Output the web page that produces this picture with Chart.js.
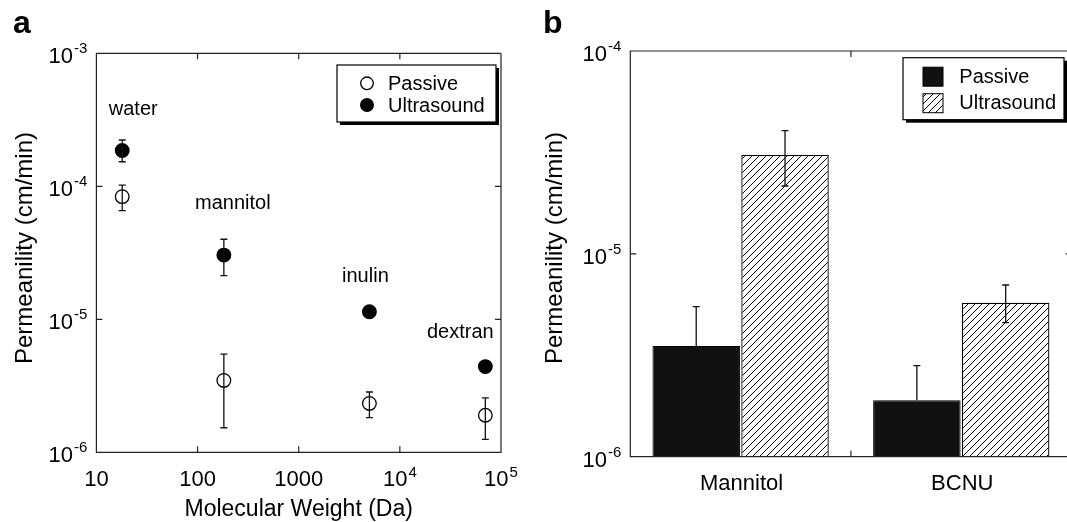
<!DOCTYPE html>
<html>
<head>
<meta charset="utf-8">
<script src="https://cdn.jsdelivr.net/npm/chart.js@4.4.1/dist/chart.umd.min.js"></script>
<style>
  html, body { margin: 0; padding: 0; background: #fff; width: 1067px; height: 522px; overflow: hidden; }
  #chartA { position: absolute; left: 0; top: 0; }
  #chartB { position: absolute; left: 530px; top: 0; }
</style>
</head>
<body>
<canvas id="chartA" width="530" height="522" style="width:530px;height:522px"></canvas>
<canvas id="chartB" width="560" height="522" style="width:560px;height:522px"></canvas>
<script>
// panel a: permeability vs molecular weight
const molecules = ["water", "mannitol", "inulin", "dextran"]
const molecularWeight = [18, 182, 5000, 70000]
const passivePerm = [8.36e-5, 3.47e-6, 2.33e-6, 1.90e-6]
const passiveHigh = [1.02e-4, 5.48e-6, 2.84e-6, 2.57e-6]
const passiveLow = [6.56e-5, 1.53e-6, 1.82e-6, 1.25e-6]
const ultrasoundPerm = [1.86e-4, 3.04e-5, 1.14e-5, 4.41e-6]
const ultrasoundHigh = [2.23e-4, 4.0e-5, null, null]
const ultrasoundLow = [1.53e-4, 2.13e-5, null, null]

const xTicksA = [10, 100, 1000, 1e4, 1e5]
const xTickLabelsA = [["10", ""], ["100", ""], ["1000", ""], ["10", "4"], ["10", "5"]]
const yTicksA = [1e-6, 1e-5, 1e-4, 1e-3]
const yTickLabelsA = [["10", "-6"], ["10", "-5"], ["10", "-4"], ["10", "-3"]]

// panel b: bars
const drugs = ["Mannitol", "BCNU"]
const barPassive = [3.51e-6, 1.90e-6]
const barPassiveHigh = [5.49e-6, 2.81e-6]
const barPassiveLow = [1.53e-6, null]
const barUltrasound = [3.07e-5, 5.74e-6]
const barUltrasoundHigh = [4.05e-5, 7.02e-6]
const barUltrasoundLow = [2.16e-5, 4.58e-6]

const yTicksB = [1e-6, 1e-5, 1e-4]
const yTickLabelsB = [["10", "-6"], ["10", "-5"], ["10", "-4"]]

const FONT = '"Liberation Sans", Arial, Helvetica, sans-serif'
const INK = "#111"

function powerLabel(ctx, base, exp, x, yMid, align, rise) {
  ctx.font = `22px ${FONT}`
  const wb = ctx.measureText(base).width
  ctx.font = `15px ${FONT}`
  const we = exp ? ctx.measureText(exp).width + 1 : 0
  const total = wb + we
  const left = align === "right" ? x - total : x - total / 2
  ctx.textAlign = "left"
  ctx.textBaseline = "alphabetic"
  ctx.font = `22px ${FONT}`
  ctx.fillText(base, left, yMid + 0.358 * 22)
  if (exp) {
    ctx.font = `15px ${FONT}`
    ctx.fillText(exp, left + wb + 1, yMid - rise + 0.358 * 15)
  }
}

function hatchPattern(ctx) {
  const tile = document.createElement("canvas")
  tile.width = 7
  tile.height = 7
  const t = tile.getContext("2d")
  t.fillStyle = "#fff"
  t.fillRect(0, 0, 7, 7)
  t.strokeStyle = "#000"
  t.lineWidth = 1
  t.beginPath()
  t.moveTo(0, 7); t.lineTo(7, 0)
  t.moveTo(-1, 1); t.lineTo(1, -1)
  t.moveTo(6, 8); t.lineTo(8, 6)
  t.stroke()
  return ctx.createPattern(tile, "repeat")
}

const errorBarPlugin = {
  id: "errorBars",
  afterDatasetsDraw(chart, args, opts) {
    const { ctx } = chart
    const yScale = chart.scales.y
    ctx.save()
    ctx.strokeStyle = INK
    ctx.lineWidth = 1.3
    opts.sets.forEach(set => {
      const meta = chart.getDatasetMeta(set.dataset)
      const raw = chart.data.datasets[set.dataset].data
      meta.data.forEach((el, i) => {
        const hi = set.high[i]
        const lo = set.low[i]
        if (hi == null && lo == null) return
        const v = typeof raw[i] === "object" ? raw[i].y : raw[i]
        const x = el.x
        const yHi = yScale.getPixelForValue(hi ?? v)
        const yLo = yScale.getPixelForValue(lo ?? v)
        ctx.beginPath()
        ctx.moveTo(x, yLo)
        ctx.lineTo(x, yHi)
        if (hi != null) { ctx.moveTo(x - 3.5, yHi); ctx.lineTo(x + 3.5, yHi) }
        if (lo != null) { ctx.moveTo(x - 3.5, yLo); ctx.lineTo(x + 3.5, yLo) }
        ctx.stroke()
      })
    })
    ctx.restore()
  }
}

function drawFrame(chart, xTickPixels, yTickPixels, frameRight) {
  const { ctx, chartArea: a } = chart
  ctx.save()
  ctx.strokeStyle = "#222"
  ctx.lineWidth = 1.2
  ctx.beginPath()
  ctx.moveTo(frameRight, a.top)
  ctx.lineTo(a.left, a.top)
  ctx.lineTo(a.left, a.bottom)
  ctx.lineTo(frameRight, a.bottom)
  ctx.lineTo(frameRight, a.top)
  xTickPixels.forEach(x => {
    ctx.moveTo(x, a.bottom); ctx.lineTo(x, a.bottom - 6)
    ctx.moveTo(x, a.top); ctx.lineTo(x, a.top + 6)
  })
  yTickPixels.forEach(y => {
    ctx.moveTo(a.left, y); ctx.lineTo(a.left + 6, y)
    ctx.moveTo(frameRight, y); ctx.lineTo(frameRight - 6, y)
  })
  ctx.stroke()
  ctx.restore()
}

function drawLegendBox(ctx, left, top, w, h) {
  ctx.fillStyle = "#000"
  ctx.fillRect(left + 3, top + 3, w, h)
  ctx.fillStyle = "#fff"
  ctx.fillRect(left, top, w, h)
  ctx.strokeStyle = "#000"
  ctx.lineWidth = 1.2
  ctx.strokeRect(left, top, w, h)
}

function drawYTitle(ctx, text, x, y) {
  ctx.save()
  ctx.translate(x, y)
  ctx.rotate(-Math.PI / 2)
  ctx.font = `24px ${FONT}`
  ctx.textAlign = "center"
  ctx.textBaseline = "middle"
  ctx.fillText(text, 0, 0)
  ctx.restore()
}

const decorA = {
  id: "decorA",
  afterDraw(chart) {
    const { ctx, chartArea: a, scales: { x, y } } = chart
    drawFrame(chart, xTicksA.map(v => x.getPixelForValue(v)), yTicksA.map(v => y.getPixelForValue(v)), a.right)

    ctx.save()
    ctx.fillStyle = "#000"
    xTicksA.forEach((v, i) => powerLabel(ctx, xTickLabelsA[i][0], xTickLabelsA[i][1], x.getPixelForValue(v), a.bottom + 25.5, "center", 6))
    yTicksA.forEach((v, i) => powerLabel(ctx, yTickLabelsA[i][0], yTickLabelsA[i][1], a.left - 9, y.getPixelForValue(v) + 1.5, "right", 7))

    ctx.font = `23px ${FONT}`
    ctx.textAlign = "center"
    ctx.textBaseline = "middle"
    ctx.fillText("Molecular Weight (Da)", (a.left + a.right) / 2, 510)
    drawYTitle(ctx, "Permeanility (cm/min)", 25, 248)

    // compound names above the ultrasound points
    const nameOffsets = [[11, -41], [9, -52], [-4, -35], [-25, -34]]
    const pts = chart.getDatasetMeta(1).data
    ctx.font = `20px ${FONT}`
    molecules.forEach((name, i) => {
      ctx.fillText(name, pts[i].x + nameOffsets[i][0], pts[i].y + nameOffsets[i][1])
    })

    // legend
    const w = 159, h = 57
    const left = a.right - 5 - w, top = a.top + 11.7
    drawLegendBox(ctx, left, top, w, h)
    const ds = chart.data.datasets
    const rows = [top + 18.3, top + 40]
    ds.forEach((d, i) => {
      ctx.beginPath()
      ctx.arc(left + 30, rows[i], 6.3, 0, Math.PI * 2)
      ctx.fillStyle = d.backgroundColor
      ctx.fill()
      ctx.lineWidth = 1.3
      ctx.strokeStyle = d.borderColor
      ctx.stroke()
      ctx.fillStyle = "#000"
      ctx.font = `20px ${FONT}`
      ctx.textAlign = "left"
      ctx.textBaseline = "middle"
      ctx.fillText(d.label, left + 51, rows[i] + 1)
    })

    ctx.font = `bold 32px ${FONT}`
    ctx.textAlign = "left"
    ctx.textBaseline = "alphabetic"
    ctx.fillText("a", 13, 33)
    ctx.restore()
  }
}

const decorB = {
  id: "decorB",
  afterDraw(chart) {
    const { ctx, chartArea: a, scales: { x, y } } = chart
    drawFrame(chart, [x.getPixelForValue(0.5)], yTicksB.map(v => y.getPixelForValue(v)), a.right)

    ctx.save()
    ctx.fillStyle = "#000"
    yTicksB.forEach((v, i) => powerLabel(ctx, yTickLabelsB[i][0], yTickLabelsB[i][1], a.left - 9, y.getPixelForValue(v) + 2, "right", 7))

    ctx.font = `22px ${FONT}`
    ctx.textAlign = "center"
    ctx.textBaseline = "alphabetic"
    drugs.forEach((name, i) => ctx.fillText(name, x.getPixelForValue(i) + 1, a.bottom + 25.3 + 0.358 * 22))
    drawYTitle(ctx, "Permeanility (cm/min)", 25.7, 248)

    // legend
    const w = 161, h = 62
    const left = a.right - 7.6 - w, top = a.top + 6.7
    drawLegendBox(ctx, left, top, w, h)
    const ds = chart.data.datasets
    const rows = [top + 9.5, top + 36]
    ds.forEach((d, i) => {
      ctx.fillStyle = d.backgroundColor
      ctx.fillRect(left + 20, rows[i], 20, 19)
      ctx.lineWidth = 1
      ctx.strokeStyle = "#000"
      ctx.strokeRect(left + 20, rows[i], 20, 19)
      ctx.fillStyle = "#000"
      ctx.font = `20px ${FONT}`
      ctx.textAlign = "left"
      ctx.textBaseline = "middle"
      ctx.fillText(d.label, left + 56.3, rows[i] + 10)
    })

    ctx.font = `bold 32px ${FONT}`
    ctx.textAlign = "left"
    ctx.textBaseline = "alphabetic"
    ctx.fillText("b", 13, 33)
    ctx.restore()
  }
}

const hiddenAxis = {
  grid: { display: false },
  border: { display: false },
  ticks: { display: false }
}

new Chart(document.getElementById("chartA"), {
  type: "scatter",
  data: {
    datasets: [
      {
        label: "Passive",
        data: molecularWeight.map((mw, i) => ({ x: mw, y: passivePerm[i] })),
        backgroundColor: "#fff",
        borderColor: "#000",
        borderWidth: 1.3,
        pointRadius: 6.8
      },
      {
        label: "Ultrasound",
        data: molecularWeight.map((mw, i) => ({ x: mw, y: ultrasoundPerm[i] })),
        backgroundColor: "#000",
        borderColor: "#000",
        borderWidth: 1.3,
        pointRadius: 6.8
      }
    ]
  },
  options: {
    responsive: false,
    animation: false,
    layout: { padding: { top: 53.3, right: 29, left: 0, bottom: 0 } },
    scales: {
      x: { ...hiddenAxis, type: "logarithmic", min: 10, max: 1e5, afterFit: s => { s.height = 69.7 } },
      y: { ...hiddenAxis, type: "logarithmic", min: 1e-6, max: 1e-3, afterFit: s => { s.width = 96.4 } }
    },
    plugins: {
      legend: { display: false },
      tooltip: { enabled: false },
      errorBars: {
        sets: [
          { dataset: 0, high: passiveHigh, low: passiveLow },
          { dataset: 1, high: ultrasoundHigh, low: ultrasoundLow }
        ]
      }
    }
  },
  plugins: [errorBarPlugin, decorA]
})

const canvasB = document.getElementById("chartB")
const hatch = hatchPattern(canvasB.getContext("2d"))

new Chart(canvasB, {
  type: "bar",
  data: {
    labels: drugs,
    datasets: [
      {
        label: "Passive",
        data: barPassive,
        backgroundColor: "#111",
        borderColor: "#000",
        borderWidth: 1,
        barPercentage: 0.985,
        categoryPercentage: 0.805
      },
      {
        label: "Ultrasound",
        data: barUltrasound,
        backgroundColor: hatch,
        borderColor: "#000",
        borderWidth: 1.3,
        barPercentage: 0.985,
        categoryPercentage: 0.805
      }
    ]
  },
  options: {
    responsive: false,
    animation: false,
    layout: { padding: { top: 51, right: 18.4, left: 0, bottom: 0 } },
    scales: {
      x: { ...hiddenAxis, afterFit: s => { s.height = 65.3 } },
      y: { ...hiddenAxis, type: "logarithmic", min: 1e-6, max: 1e-4, afterFit: s => { s.width = 100.3 } }
    },
    plugins: {
      legend: { display: false },
      tooltip: { enabled: false },
      errorBars: {
        sets: [
          { dataset: 0, high: barPassiveHigh, low: barPassiveLow },
          { dataset: 1, high: barUltrasoundHigh, low: barUltrasoundLow }
        ]
      }
    }
  },
  plugins: [errorBarPlugin, decorB]
})
</script>
</body>
</html>
